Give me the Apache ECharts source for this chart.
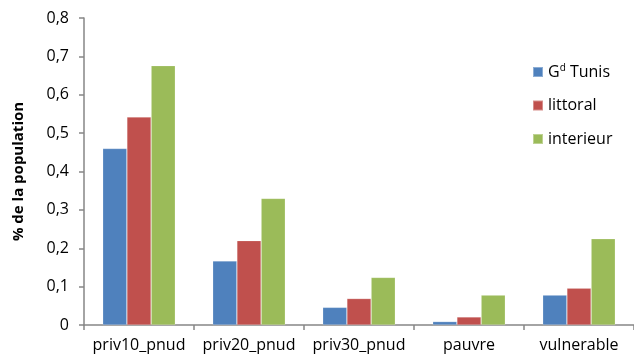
<!DOCTYPE html>
<html><head><meta charset="utf-8">
<script src="https://cdn.jsdelivr.net/npm/echarts@6/dist/echarts.min.js"></script>
<style>html,body{margin:0;padding:0;background:#fff}#c{width:634px;height:357px}</style>
</head><body><div id="c"></div>
<script>
const categories = ['priv10_pnud','priv20_pnud','priv30_pnud','pauvre','vulnerable'];
const seriesNames = ['Gd Tunis','littoral','interieur'];
const gdTunis = [0.460, 0.167, 0.046, 0.009, 0.078];
const littoral = [0.542, 0.220, 0.069, 0.021, 0.096];
const interieur = [0.676, 0.330, 0.124, 0.078, 0.225];
const yTicks = {min: 0, max: 0.8, interval: 0.1};
const yName = '% de la population';
const colors = ['#4F81BD','#C0504D','#9BBB59'];
const values = [gdTunis, littoral, interieur];
const font = 'Open Sans, Liberation Sans, sans-serif';
const chart = echarts.init(document.getElementById('c'));
chart.setOption({
  animation: false,
  grid: {left: 84, right: -9, top: 18, bottom: 32, containLabel: false},
  legend: {
    orient: 'vertical', left: 527, top: 58, itemWidth: 10, itemHeight: 10, itemGap: 17.5,
    icon: 'rect',
    textStyle: {fontFamily: font, fontSize: 16, color: '#000',
      rich: {sup: {fontSize: 10, verticalAlign: 'top', padding: [0,0,8,0], fontFamily: font, color: '#000'}}},
    formatter: n => n === 'Gd Tunis' ? 'G{sup|d} Tunis' : n,
    data: seriesNames
  },
  xAxis: {
    type: 'category', data: categories,
    axisLine: {lineStyle: {color: '#868686', width: 1.5}},
    axisTick: {show: true, length: 5, lineStyle: {color: '#868686', width: 1.5}},
    axisLabel: {fontFamily: font, fontSize: 16, color: '#000', margin: 12, interval: 0}
  },
  yAxis: {
    type: 'value', min: yTicks.min, max: yTicks.max, interval: yTicks.interval,
    name: yName, nameLocation: 'middle', nameGap: 58, nameRotate: 90,
    nameTextStyle: {fontFamily: font, fontSize: 15, fontWeight: 'bold', color: '#000'},
    axisLine: {show: true, lineStyle: {color: '#868686', width: 1.5}},
    axisTick: {show: true, length: 5, lineStyle: {color: '#868686', width: 1.5}},
    splitLine: {show: false},
    axisLabel: {fontFamily: font, fontSize: 16, color: '#000', margin: 15,
      formatter: v => v === 0 ? '0' : v.toFixed(1).replace('.', ',')}
  },
  series: seriesNames.map((n, i) => ({
    name: n, type: 'bar', data: values[i], barGap: '0%', barCategoryGap: '34%',
    itemStyle: {color: colors[i], borderColor: 'rgba(255,255,255,0.35)', borderWidth: 0.6}
  }))
});
</script></body></html>
